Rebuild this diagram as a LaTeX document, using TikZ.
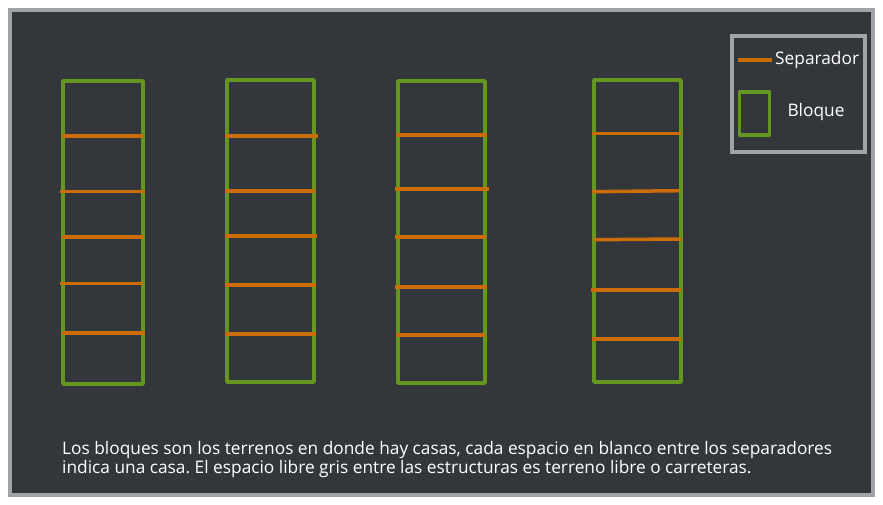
\documentclass[tikz,border=0pt]{standalone}
\usepackage{fontspec}
\setmainfont{Open Sans}
\usetikzlibrary{positioning}
\frenchspacing

\definecolor{fondo}{RGB}{51,55,60}
\definecolor{marco}{RGB}{160,164,169}
\definecolor{verde}{RGB}{101,151,32}
\definecolor{naranja}{RGB}{204,108,4}

\begin{document}
\begin{tikzpicture}[
        x=1pt, y=-1pt,
        bloque/.style={
            draw=verde,
            line width=3.8pt,
            line join=round
        },
        separador/.style={
            draw=naranja,
            line width=3.5pt
        },
        leyenda/.style={
            draw=marco,
            line width=3.5pt
        },
        texto/.style={
            text=white,
            font=\fontsize{17.3}{19}\selectfont,
            inner sep=0pt
        }
    ]

    \useasboundingbox (0,0) rectangle (883,505);
    \fill[white] (0,0) rectangle (883,505);

    % Background frame
    \draw[draw=marco, line width=4pt, fill=fondo] (10,10) rectangle (873,495);

    % Blocks
    \draw[bloque] (63,81) rectangle (143,384);
    \draw[bloque] (227,80) rectangle (314,382);
    \draw[bloque] (398,81) rectangle (485,383);
    \draw[bloque] (594,80) rectangle (681,382);

    % Separators of block 1
    \draw[separador] (62,136) -- (143,136);
    \draw[separador] (60,191.7) -- (144.7,191.7);
    \draw[separador] (61.7,237) -- (143.7,237);
    \draw[separador] (60,283.7) -- (142.7,283.7);
    \draw[separador] (62.3,333) -- (144.7,333);

    % Separators of block 2
    \draw[separador] (224.7,136) -- (317.7,136);
    \draw[separador] (225.3,191) -- (314.7,191);
    \draw[separador] (224.7,236) -- (316.7,236);
    \draw[separador] (224.7,285) -- (315.7,285);
    \draw[separador] (225.3,334) -- (315.7,334);

    % Separators of block 3
    \draw[separador] (396,135) -- (487,135);
    \draw[separador] (395,189) -- (489,189);
    \draw[separador] (395,237) -- (485.7,237);
    \draw[separador] (395,287) -- (486.7,287);
    \draw[separador] (396,335) -- (484.7,335);

    % Separators of block 4
    \draw[separador] (592,133.7) -- (680.7,133.7);
    \draw[separador] (592,191.7) -- (679.7,190.7);
    \draw[separador] (593.3,239.7) -- (681.3,239);
    \draw[separador] (591.3,290) -- (681.3,290);
    \draw[separador] (592,339) -- (680.7,339);

    % Legend
    \draw[leyenda] (732,36) rectangle (865,152);
    \draw[separador] (738,60) -- (772,60);
    \node[texto, anchor=west] (sep) at (775,60.5) {Separador};
    \draw[bloque, line width=3.5pt] (739.5,92) rectangle (769.5,135);
    \node[texto] (blo) at (816,112) {Bloque};

    % Note
    \node[texto, anchor=north west, align=left] (nota) at (62,441) {Los bloques son los terrenos en donde hay casas, cada espacio en blanco entre los separadores\\
        indica una casa. El espacio libre gris entre las estructuras es terreno libre o carreteras.};

\end{tikzpicture}
\end{document}
